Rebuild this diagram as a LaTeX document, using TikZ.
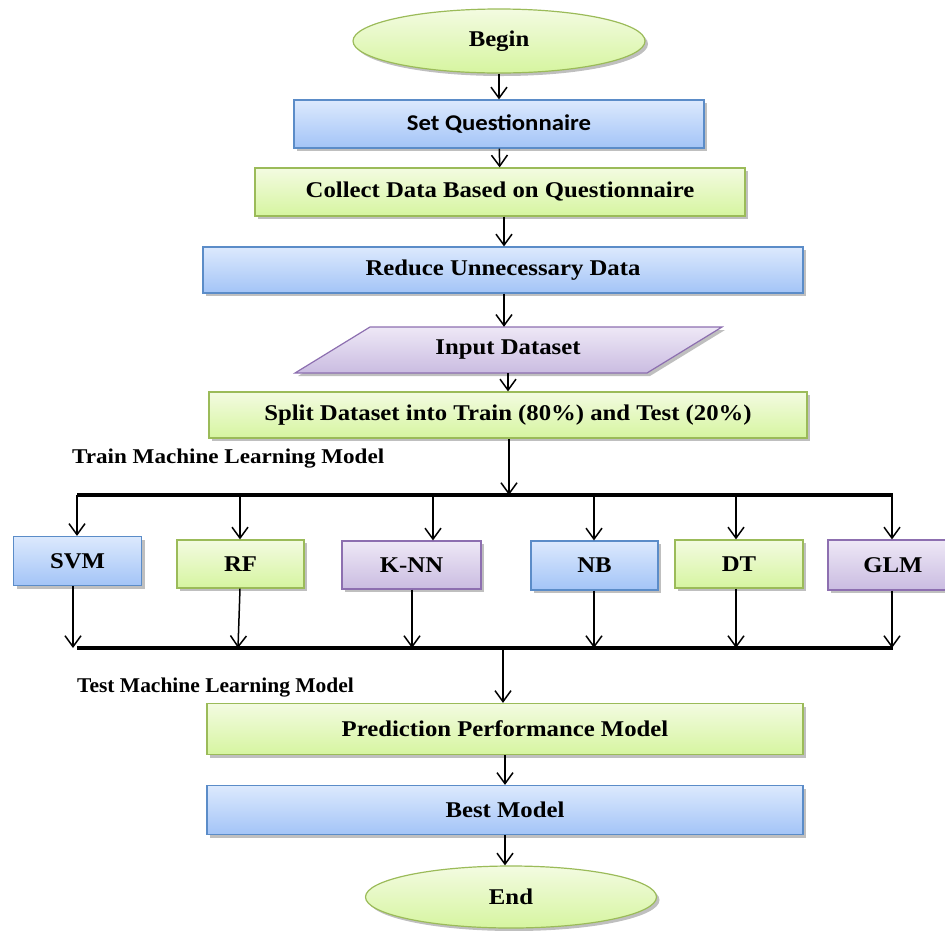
\documentclass[tikz,border=0pt]{standalone}
\usepackage{fontspec}
\setmainfont[FakeStretch=1.1]{Liberation Serif}
\newfontfamily\calfont[FakeStretch=1.1]{Carlito}
\usetikzlibrary{arrows.meta,shadows,shapes.geometric}
\definecolor{bluetop}{HTML}{DCE9FD}
\definecolor{bluebot}{HTML}{A3C4F7}
\definecolor{blueline}{HTML}{5B8CC8}
\definecolor{greentop}{HTML}{F3FBE1}
\definecolor{greenbot}{HTML}{D6F5A0}
\definecolor{greenline}{HTML}{9BBB59}
\definecolor{purptop}{HTML}{EEE8F6}
\definecolor{purpbot}{HTML}{CABCE1}
\definecolor{purpline}{HTML}{8D6FB0}
\tikzset{
  shad/.style={drop shadow={shadow xshift=3pt,shadow yshift=-3pt,fill=gray!50,opacity=1}},
  boxbase/.style={rectangle,line width=1.2pt,shad,font=\fontsize{22.5}{26}\selectfont\bfseries,inner sep=0pt},
  bluebox/.style={boxbase,draw=blueline,top color=bluetop,bottom color=bluebot},
  greenbox/.style={boxbase,draw=greenline,top color=greentop,bottom color=greenbot},
  purpbox/.style={boxbase,draw=purpline,top color=purptop,bottom color=purpbot},
  greenoval/.style={ellipse,line width=1.2pt,draw=greenline,top color=greentop,bottom color=greenbot,shad,font=\fontsize{22.5}{26}\selectfont\bfseries,inner sep=0pt},
  arr/.style={line width=1.5pt,-{Straight Barb[length=11pt,width=16pt,line width=1.5pt]}},
  bar/.style={line width=4pt},
  lbl/.style={anchor=west,font=\fontsize{21}{24}\selectfont\bfseries,inner sep=0pt}
}
\begin{document}
\begin{tikzpicture}[x=1pt,y=-1pt]
\useasboundingbox (0,0) rectangle (945,930);
\begin{scope}
\clip (0,0) rectangle (945,930);
% main flow
\node[greenoval,minimum width=292,minimum height=64] (begin) at (499,41) {Begin};
\node[bluebox,minimum width=410,minimum height=48,font=\calfont\fontsize{22.5}{26}\selectfont\bfseries] (setq) at (499,124) {Set Questionnaire};
\node[greenbox,minimum width=490,minimum height=48] (collect) at (500,192) {Collect Data Based on Questionnaire};
\node[bluebox,minimum width=600,minimum height=46] (reduce) at (503,270) {Reduce Unnecessary Data};
\path[line width=1.2pt,draw=purpline,top color=purptop,bottom color=purpbot,shad]
  (370,327) -- (722,327) -- (647,373) -- (295,373) -- cycle;
\node[rectangle,minimum width=280,minimum height=46,inner sep=0pt,font=\fontsize{22.5}{26}\selectfont\bfseries] (input) at (508,350) {Input Dataset};
\node[greenbox,minimum width=598,minimum height=46] (split) at (508,415) {Split Dataset into Train (80\%) and Test (20\%)};
\node[lbl] (trainlbl) at (72,459) {Train Machine Learning Model};

\coordinate (x1) at (504,0);
\coordinate (x2) at (508,0);
\draw[arr] (begin) -- (setq);
\draw[arr] (setq) -- (collect);
\draw[arr] (collect.south -| x1) -- (reduce.north -| x1);
\draw[arr] (reduce.south -| x1) -- (input.north -| x1);
\draw[arr] (input.south -| x2) -- (split.north -| x2);

% top bar
\coordinate (tl) at (77,495);
\coordinate (tr) at (893,495);
\coordinate (tin) at (509,495);
\draw[bar] (tl) -- (tr);
\draw[arr] (split.south -| tin) -- (tin);

% model boxes
\node[bluebox,minimum width=128,minimum height=49] (svm) at (77.5,561) {SVM};
\node[greenbox,minimum width=127,minimum height=48] (rf) at (240.5,564) {RF};
\node[purpbox,minimum width=139,minimum height=48] (knn) at (411.5,565) {K-NN};
\node[bluebox,minimum width=127,minimum height=49] (nb) at (594.5,565.5) {NB};
\node[greenbox,minimum width=128,minimum height=48] (dt) at (739,564) {DT};
\node[purpbox,minimum width=130,minimum height=50] (glm) at (893,565) {GLM};

\coordinate (t1) at (77,495);
\coordinate (t2) at (240,495);
\coordinate (t3) at (433,495);
\coordinate (t4) at (594,495);
\coordinate (t5) at (736,495);
\coordinate (t6) at (892,495);
\draw[arr] (t1) -- (t1 |- svm.north);
\draw[arr] (t2) -- (t2 |- rf.north);
\draw[arr] (t3) -- (t3 |- knn.north);
\draw[arr] (t4) -- (t4 |- nb.north);
\draw[arr] (t5) -- (t5 |- dt.north);
\draw[arr] (t6) -- (t6 |- glm.north);

% bottom bar
\coordinate (bl) at (77,648);
\coordinate (br) at (893,648);
\draw[bar] (bl) -- (br);
\coordinate (b1) at (73,648);
\coordinate (b2) at (238,648);
\coordinate (b3) at (412,648);
\coordinate (b4) at (594,648);
\coordinate (b5) at (736,648);
\coordinate (b6) at (892,648);
\coordinate (r2) at (240,648);
\draw[arr] (b1 |- svm.south) -- (b1);
\draw[arr] (r2 |- rf.south) -- (b2);
\draw[arr] (b3 |- knn.south) -- (b3);
\draw[arr] (b4 |- nb.south) -- (b4);
\draw[arr] (b5 |- dt.south) -- (b5);
\draw[arr] (b6 |- glm.south) -- (b6);

\node[lbl] (testlbl) at (77,688) {\scalebox{0.93}[1]{Test Machine Learning Model}};

\node[greenbox,minimum width=596,minimum height=51] (pred) at (505,729) {Prediction Performance Model};
\node[bluebox,minimum width=596,minimum height=49] (best) at (505,810) {Best Model};
\node[greenoval,minimum width=291,minimum height=62] (end) at (511,897) {End};

\coordinate (bout) at (503,648);
\coordinate (x3) at (505,0);
\draw[arr] (bout) -- (bout |- pred.north);
\draw[arr] (pred) -- (best);
\draw[arr] (best.south -| x3) -- (end.north -| x3);
\end{scope}
\end{tikzpicture}
\end{document}
